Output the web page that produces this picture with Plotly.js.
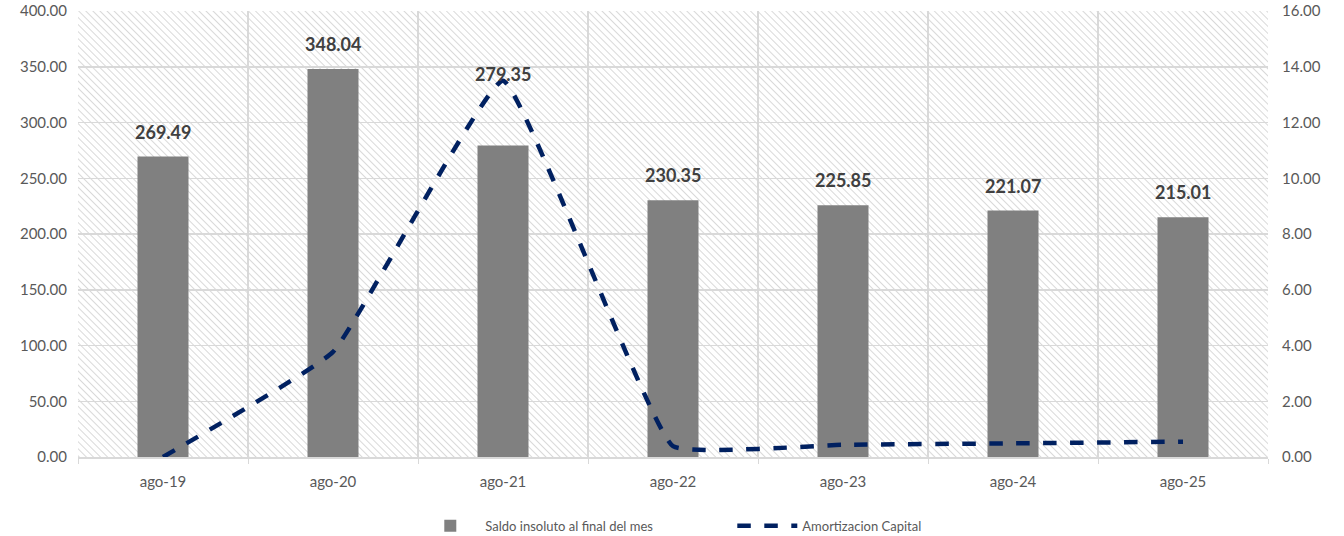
<!DOCTYPE html>
<html>
<head>
<meta charset="utf-8">
<script src="https://cdn.plot.ly/plotly-3.0.1.min.js"></script>
<style>
html,body{margin:0;padding:0;background:#fff;}
#chart{width:1344px;height:536px;}
</style>
</head>
<body>
<div id="chart"></div>
<script>
const categories = ["ago-19","ago-20","ago-21","ago-22","ago-23","ago-24","ago-25"];
const saldoInsoluto = [269.49, 348.04, 279.35, 230.35, 225.85, 221.07, 215.01];
const amortizacionCapital = [0.00, 3.77, 13.50, 0.39, 0.44, 0.49, 0.55];
const seriesNames = ["Saldo insoluto al final del mes", "Amortizacion Capital"];

const FONT = "Lato, 'Open Sans', sans-serif";

// hatched plot background pattern (1190 x 446 plot area)
const W = 1190, H = 446;
const svg = `<svg xmlns="http://www.w3.org/2000/svg" width="${W}" height="${H}">`+
  `<defs><pattern id="p" width="5" height="5" patternUnits="userSpaceOnUse" patternTransform="rotate(-45)">`+
  `<rect width="5" height="5" fill="#ffffff"/><line x1="0" y1="0" x2="0" y2="5" stroke="#d9d9d9" stroke-width="2"/></pattern></defs>`+
  `<rect width="${W}" height="${H}" fill="url(#p)"/></svg>`;
const bgUri = "data:image/svg+xml;base64," + btoa(svg);

const barTrace = {
  type: "bar",
  x: categories,
  y: saldoInsoluto,
  name: seriesNames[0],
  marker: {color: "#808080"},
  width: 0.3,
  yaxis: "y",
  hoverinfo: "x+y"
};
const lineTrace = {
  type: "scatter",
  mode: "lines",
  x: categories,
  y: amortizacionCapital,
  name: seriesNames[1],
  yaxis: "y2",
  line: {color: "#002060", width: 4.5, dash: "dash", shape: "spline", smoothing: 0.3},
  cliponaxis: false
};

const annotations = categories.map((c, i) => ({
  x: c, y: saldoInsoluto[i], xref: "x", yref: "y",
  text: "<b>" + saldoInsoluto[i].toFixed(2) + "</b>",
  showarrow: false,
  yshift: i === 2 ? 72 : 25,
  font: {family: FONT, size: 18, color: "#404040"}
}));

const layout = {
  width: 1344, height: 536,
  margin: {l: 78, r: 76, t: 11, b: 79, autoexpand: false},
  paper_bgcolor: "#ffffff",
  plot_bgcolor: "rgba(0,0,0,0)",
  font: {family: FONT, color: "#595959"},
  showlegend: true,
  legend: {orientation: "h", x: 0.309, xanchor: "left", xref: "container",
           y: 0.019, yanchor: "middle", yref: "container",
           font: {family: FONT, size: 13, color: "#595959"}, traceorder: "normal",
           itemwidth: 60, entrywidth: 242},
  bargap: 0.7,
  xaxis: {
    type: "category",
    tickson: "boundaries",
    showgrid: true, gridcolor: "#d9d9d9", gridwidth: 1.5,
    ticks: "outside", ticklen: 5, tickcolor: "#d9d9d9",
    showline: true, linecolor: "#d9d9d9", linewidth: 1.5,
    tickfont: {family: FONT, size: 15, color: "#595959"},
    ticklabelstandoff: 10,
    zeroline: false
  },
  yaxis: {
    range: [0, 400], dtick: 50, tickformat: ".2f",
    showgrid: true, gridcolor: "#d9d9d9", gridwidth: 1.5,
    zeroline: false, showline: false,
    tickfont: {family: FONT, size: 15, color: "#595959"},
    ticklabelstandoff: 10
  },
  yaxis2: {
    overlaying: "y", side: "right",
    range: [0, 16], dtick: 2, tickformat: ".2f",
    showgrid: false, zeroline: false, showline: false,
    tickfont: {family: FONT, size: 15, color: "#595959"},
    ticklabelstandoff: 13
  },
  images: [{
    source: bgUri, xref: "paper", yref: "paper", x: 0, y: 1, sizex: 1, sizey: 1,
    xanchor: "left", yanchor: "top", sizing: "stretch", layer: "below"
  }],
  annotations: annotations
};

Plotly.newPlot("chart", [barTrace, lineTrace], layout, {displayModeBar: false, staticPlot: true});
</script>
</body>
</html>
